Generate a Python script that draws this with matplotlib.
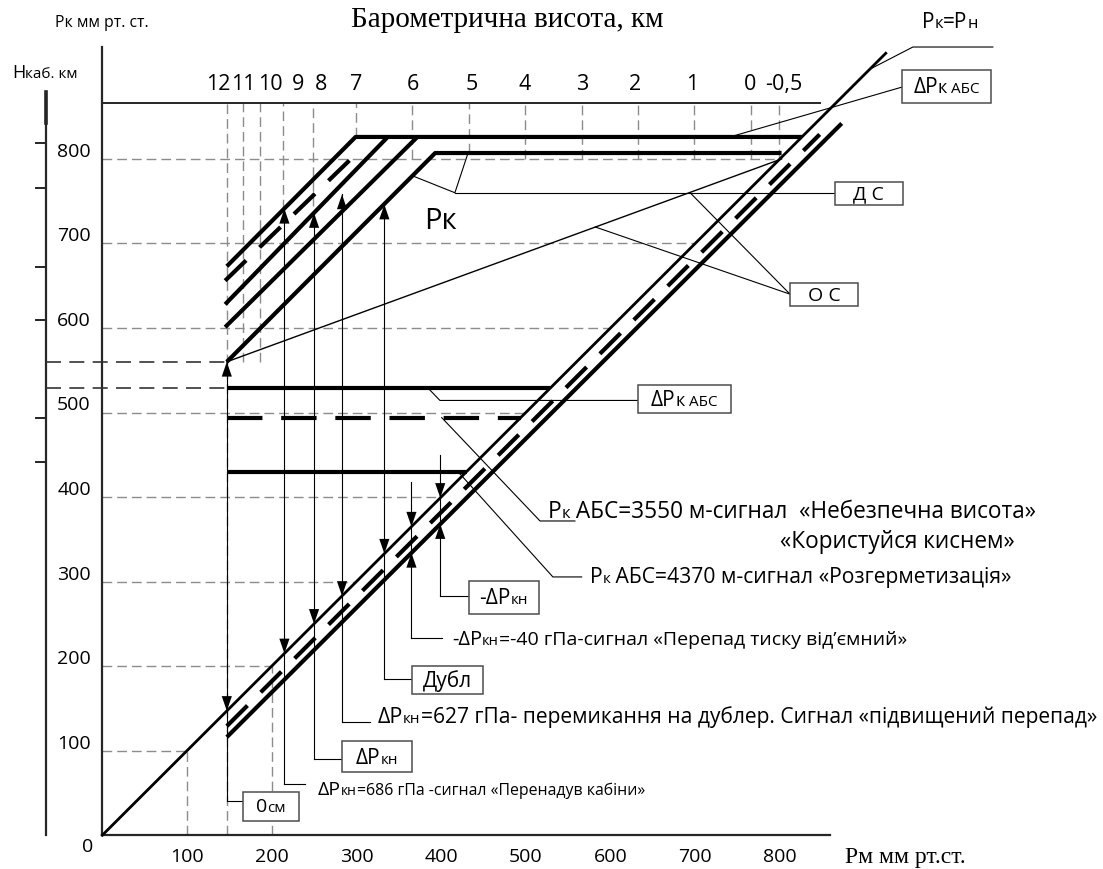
import matplotlib.pyplot as plt
from matplotlib.patches import Rectangle, Polygon
from matplotlib.offsetbox import TextArea, HPacker, AnnotationBbox

plt.rcParams['font.family'] = ['Open Sans', 'DejaVu Sans']
SERIF = ['Liberation Serif', 'DejaVu Serif']

# ---------------- data (mm Hg) ----------------
# top altitude scale: km label, position of its dashed line, position of label, lower end of line
alt_km = ["12", "11", "10", "9", "8", "7", "6", "5", "4", "3", "2", "1", "0", "-0,5"]
alt_pm = [147, 166, 186, 213, 249, 299, 366, 433, 499, 566, 632, 699, 766, 799]
alt_lbl = [137, 166, 199, 231, 258, 300, 367, 436, 499, 566, 629, 697, 765, 804]
alt_low = [0, 560, 560, 741, 744, 826, 800, 807, 800, 800, 800, 800, 800, 800]

ticks = [100, 200, 300, 400, 500, 600, 700, 800]
hcab_ticks = [819, 766, 672, 609, 494, 441]   # Hкаб scale, no labels

# Pк = Pн and the two lines under it
pn_x, pn_y = [0, 925], [0, 925]
low_dash_x, low_dash_y = [147, 847], [129, 829]
low_x, low_y = [147, 873], [116, 842]

# cabin pressure curves (upper part)
ds_x, ds_y = [147, 393, 802], [560, 807, 807]      # Д С
c1_x, c1_y = [147, 299, 826], [673, 826, 826]
c2_x, c2_y = [145, 372], [601, 826]
c3_x, c3_y = [145, 337], [628, 826]
c4_x, c4_y = [145, 307], [656, 813]                # dashed
os_x, os_y = [147, 802], [560, 800]                # О С

# ΔPк АБС levels
abs_lvl = [529, 494, 430]
abs_dash = [False, True, False]
zero_lvl = 560

# signal arrows: x, top (on Pк curve), bottom (leader)
sig_x = [147, 215, 250, 283, 333]
sig_top = [560, 741, 736, 758, 746]
sig_bot = [40, 60, 90, 134, 185]
neg_x = [365, 399]
neg_top = [418, 450]
neg_bot = [233, 283]

# ---------------- figure ----------------
fig = plt.figure(figsize=(11.03, 8.70), dpi=100)
ax = fig.add_axes([0, 0, 1, 1])
ax.set_xlim(-120.8, 1181.5)
ax.set_ylim(-40.0, 989.2)
ax.axis('off')

GRID = dict(color='#8c8c8c', lw=1.0, ls=(0, (7, 3.6)), zorder=1)
THIN = dict(color='black', lw=0.8, zorder=3)
THICK = dict(color='black', lw=3.0, solid_capstyle='butt', zorder=4)
AXC = '#262626'


def head(x, y, up):
    L, W = 17.5, 6.0
    s = -1 if up else 1
    ax.add_patch(Polygon([(x, y), (x - W, y + s * L), (x + W, y + s * L)],
                         closed=True, fc='black', lw=0, zorder=5))


def box(x0, y0, x1, y1):
    ax.add_patch(Rectangle((x0, y0), x1 - x0, y1 - y0, fc='white',
                           ec='#4d4d4d', lw=1.1, zorder=6))


def rich(x, y, parts, ha=0.0):
    kids = [TextArea(t, textprops=dict(size=s, color='black')) for t, s in parts]
    pk = HPacker(children=kids, align='baseline', pad=0, sep=0)
    ax.add_artist(AnnotationBbox(pk, (x, y), box_alignment=(ha, 0.5),
                                 frameon=False, pad=0, zorder=7))


# grid
for v in ticks:
    ax.plot([0, v], [v, v], **GRID)
for v in ticks[:2]:
    ax.plot([v, v], [0, v], **GRID)
for xp, yl in zip(alt_pm, alt_low):
    ax.plot([xp, xp], [yl, 866], **GRID)

# axes
ax.plot([0, 0], [0, 933], color=AXC, lw=1.6, zorder=2)
ax.plot([0, 859], [0, 0], color=AXC, lw=1.6, zorder=2)
ax.plot([0, 847], [866, 866], color=AXC, lw=1.4, zorder=2)
ax.plot([-66.5, -66.5], [0, 879], color=AXC, lw=1.6, zorder=2)
ax.plot([-66.5, -66.5], [843, 879], color=AXC, lw=2.6, zorder=2)
for t in hcab_ticks:
    ax.plot([-78, -66.5], [t, t], color=AXC, lw=1.4)

for v in ticks:
    ax.text(-33.4, v + 9.5, str(v), ha='center', va='center', size=14)
    ax.text(v, -24.5, str(v), ha='center', va='center', size=14)
ax.text(-17, -12.5, "0", ha='center', va='center', size=14)
for lbl, xl in zip(alt_km, alt_lbl):
    ax.text(xl, 889, lbl, ha='center', va='center', size=15.5)

ax.text(478, 965.6, "Барометрична висота, км", family=SERIF, size=21,
        ha='center', va='center')
ax.text(-55.8, 962, "Pк мм рт. ст.", size=11.3, ha='left', va='center')
rich(-106.6, 903, [("H", 13), ("каб. км", 11)])
ax.text(876.7, -25.8, "Pм мм рт.ст.", family=SERIF, size=17, ha='left', va='center')

# main lines
ax.plot(pn_x, pn_y, color='black', lw=2.0, zorder=4)
ax.plot(low_x, low_y, **THICK)
ax.plot(low_dash_x, low_dash_y, color='black', lw=3.0, ls=(0, (7, 4.5)), zorder=4)
for cx, cy in [(ds_x, ds_y), (c1_x, c1_y), (c2_x, c2_y), (c3_x, c3_y)]:
    ax.plot(cx, cy, **THICK)
ax.plot(c4_x, c4_y, color='black', lw=3.0, ls=(0, (7, 4.5)), zorder=4)
ax.plot(os_x, os_y, color='black', lw=1.0, zorder=3)

x0 = alt_pm[0]
for lv, d in zip(abs_lvl, abs_dash):
    if d:
        ax.plot([x0, lv], [lv, lv], color='black', lw=3.0, ls=(0, (8.5, 4.5)), zorder=4)
    else:
        ax.plot([x0, lv], [lv, lv], **THICK)
for lv in [zero_lvl, abs_lvl[0]]:
    ax.plot([-66.5, x0], [lv, lv], color='#333333', lw=1.2, ls=(0, (9, 5)), zorder=2)

# arrows
off = low_x[0] - low_y[0]
for x, t, b in zip(sig_x, sig_top, sig_bot):
    ax.plot([x, x], [b, t], **THIN)
    head(x, t, up=True)
    head(x, x, up=False)
for x, t, b in zip(neg_x, neg_top, neg_bot):
    ax.plot([x, x], [b, t], **THIN)
    head(x, x, up=False)
    head(x, x - off, up=True)

# leaders, boxes, labels
ax.plot([906, 957, 1051.5], [906, 932.4, 932.4], **THIN)
rich(1000.8, 962, [("P", 15), ("к", 12), ("=P", 15), ("н", 12)], ha=0.5)

ax.plot([741, 944.2], [826, 885], **THIN)
box(944.2, 866, 1049.3, 905)
rich(996.7, 885.5, [("ΔP", 15), ("к", 13), (" АБС", 11)], ha=0.5)

ax.plot([865, 416.3], [760, 760], **THIN)
ax.plot([366.8, 416.3, 431.8], [779.8, 760, 807], **THIN)
box(865, 745, 945, 773)
ax.text(905, 759, "Д С", size=14, ha='center', va='center', zorder=7)

ax.plot([694, 812, 582], [760, 640, 719.5], **THIN)
box(812, 626, 892, 653)
ax.text(852, 639.5, "О С", size=14, ha='center', va='center', zorder=7)

ax.text(398.7, 727, "Pк", size=21, ha='center', va='center')

ax.plot([384.5, 398.6, 632.5], [529, 514.3, 514.3], **THIN)
box(632.5, 499, 742, 532)
rich(687, 515.5, [("ΔP", 15), ("к", 13), (" АБС", 11)], ha=0.5)

ax.plot([400.7, 516.8, 558], [494, 371.7, 371.7], **THIN)
rich(526.2, 383.5, [("P", 16.3), ("к", 12), (" АБС=3550 м-сигнал  «Небезпечна висота»", 16.3)])
ax.text(800, 348, "«Користуйся киснем»", size=16.3, ha='left', va='center')

ax.plot([420, 532, 566], [430, 305.5, 305.5], **THIN)
rich(575.6, 306, [("P", 15.2), ("к", 11), (" АБС=4370 м-сигнал «Розгерметизація»", 15.2)])

ax.plot([neg_x[1], 433], [neg_bot[1], neg_bot[1]], **THIN)
box(433, 262, 515.6, 301)
rich(474.3, 281.5, [("-ΔP", 15), ("кн", 11)], ha=0.5)

ax.plot([neg_x[0], 401], [neg_bot[0], neg_bot[0]], **THIN)
rich(413, 232, [("-ΔP", 14.5), ("кн", 10.5), ("=-40 гПа-сигнал «Перепад тиску від’ємний»", 14)])

ax.plot([sig_x[4], 365.7], [sig_bot[4], sig_bot[4]], **THIN)
box(365.7, 167, 449.5, 200)
ax.text(407.6, 183.5, "Дубл", size=15, ha='center', va='center', zorder=7)

ax.plot([sig_x[3], 316], [sig_bot[3], sig_bot[3]], **THIN)
rich(325.5, 141, [("ΔP", 15.5), ("кн", 11), ("=627 гПа- перемикання на дублер. Сигнал «підвищений перепад»", 15.1)])

ax.plot([sig_x[2], 283], [sig_bot[2], sig_bot[2]], **THIN)
box(283, 75, 365.7, 111)
rich(324.3, 92, [("ΔP", 15), ("кн", 11)], ha=0.5)

ax.plot([sig_x[1], 239], [sig_bot[1], sig_bot[1]], **THIN)
rich(254.7, 54.6, [("ΔP", 14), ("кн", 10), ("=686 гПа -сигнал «Перенадув кабіни»", 11.4)])

ax.plot([sig_x[0], 166], [sig_bot[0], sig_bot[0]], **THIN)
box(166, 17, 232, 51)
rich(199, 34, [("0", 14), ("см", 11)], ha=0.5)

fig.savefig("out.png", dpi=100)
